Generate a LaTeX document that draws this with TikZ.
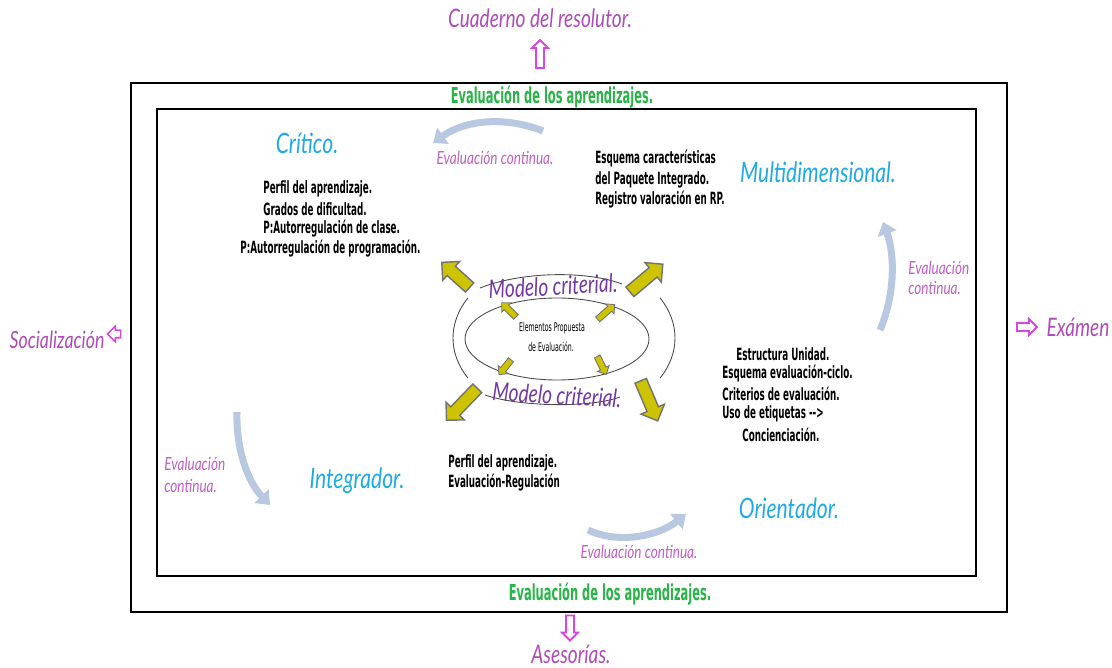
\documentclass[tikz,border=0pt]{standalone}
\usepackage{fontspec}
\setmainfont{DejaVu Sans}
\newfontfamily\handfont[FakeStretch=0.75]{Lato}
\newfontfamily\comicfont[FakeStretch=0.52]{DejaVu Sans}
\usetikzlibrary{calc,arrows.meta,shapes.arrows}
\def\centerellarc[#1](#2)(#3:#4:#5:#6){\draw[#1] ($(#2)+({#5*cos(#3)},{#6*sin(#3)})$) arc (#3:#4:#5 and #6);}

\definecolor{headblue}{RGB}{30,170,230}
\definecolor{notepurple}{RGB}{190,95,195}
\definecolor{labelpurple}{RGB}{175,75,185}
\definecolor{modelpurple}{RGB}{115,55,165}
\definecolor{evalgreen}{RGB}{40,180,70}
\definecolor{cyclegrey}{RGB}{185,200,225}
\definecolor{arrowyellow}{RGB}{205,195,0}
\definecolor{outpink}{RGB}{215,70,225}

\tikzset{
  heading/.style={text=headblue, font=\handfont\itshape\fontsize{16}{18}\selectfont, inner sep=0pt},
  notetext/.style={text=black, font=\comicfont\bfseries\fontsize{9.6}{11}\selectfont, anchor=west, inner sep=0pt},
  evalnote/.style={text=notepurple, font=\handfont\itshape\fontsize{10.3}{12}\selectfont, inner sep=0pt},
  outlabel/.style={text=labelpurple, font=\handfont\itshape\fontsize{14.5}{16}\selectfont, inner sep=0pt},
  greenhead/.style={text=evalgreen, font=\comicfont\bfseries\fontsize{12.5}{14}\selectfont, inner sep=0pt},
  modeltext/.style={text=modelpurple, font=\handfont\itshape\fontsize{14.5}{16}\selectfont, inner sep=0pt},
  centretext/.style={text=black, font=\comicfont\fontsize{6.8}{8}\selectfont, inner sep=0pt},
  cyclearrow/.style={draw=cyclegrey, line width=4pt, -{Triangle[length=7pt,width=11pt]}},
  bigarrow/.style={single arrow, fill=arrowyellow, draw=black!55, line width=0.8pt, inner sep=0pt, inner ysep=0.11cm, minimum width=0.48cm, single arrow head extend=0.13cm},
  smallarrow/.style={bigarrow, line width=0.5pt, inner ysep=0.055cm, minimum width=0.25cm, single arrow head extend=0.065cm},
  outarrow/.style={single arrow, draw=outpink, line width=1.1pt, inner sep=0pt, inner ysep=0.06cm, minimum width=0.28cm, single arrow head extend=0.08cm}
}

\begin{document}
\begin{tikzpicture}[x=0.02cm,y=-0.02cm]
		%%%%% START %%%%%
		\useasboundingbox (0,0) rectangle (1112,668);
		
		\draw[line width=1pt] (131,83) rectangle (1007,612);
		\draw[line width=1pt] (157,109) rectangle (976,576);
		
		\node[greenhead] (evaltop) at (552,97) {Evaluación de los aprendizajes.};
		\node[greenhead] (evalbot) at (610,594) {Evaluación de los aprendizajes.};
		
		% outside labels
		\node[outlabel] (cuaderno) at (540,18) {Cuaderno del resolutor.};
		\node[outarrow, rotate=90, minimum height=0.56cm] (upmark) at (540,56) {};
		\node[outlabel] (asesorias) at (571,654) {Asesorías.};
		\node[outarrow, rotate=-90, minimum height=0.5cm] (downmark) at (570,626) {};
		\node[outlabel, font=\handfont\itshape\fontsize{13.5}{16}\selectfont] (social) at (57,340) {Socialización};
		\node[outarrow, rotate=180, minimum height=0.26cm, minimum width=0.24cm, line width=0.9pt] (leftmark) at (116,334) {};
		\node[outlabel] (examen) at (1078,327) {Exámen};
		\node[outarrow, minimum height=0.4cm, minimum width=0.32cm] (rightmark) at (1025,327) {};
		
		% headings
		\node[heading] (critico) at (307,143) {Crítico.};
		\node[heading] (multi) at (818,172) {Multidimensional.};
		\node[heading] (integrador) at (357,481) {Integrador.};
		\node[heading] (orientador) at (789,508) {Orientador.};
		
		% critico
		\node[notetext] (crit1) at (263,189) {Perfil del aprendizaje.};
		\node[notetext] (crit2) at (263,209) {Grados de dificultad.};
		\node[notetext] (crit3) at (263,229) {P:Autorregulación de clase.};
		\node[notetext] (crit4) at (240,249) {P:Autorregulación de programación.};
		
		% multidimensional
		\node[notetext] (multi1) at (595,159) {Esquema características};
		\node[notetext] (multi2) at (595,180) {del Paquete Integrado.};
		\node[notetext] (multi3) at (595,200) {Registro valoración en RP.};
		
		% orientador
		\node[notetext] (orien1) at (736,354) {Estructura Unidad.};
		\node[notetext] (orien2) at (722,374) {Esquema evaluación-ciclo.};
		\node[notetext] (orien3) at (722,394) {Criterios de evaluación.};
		\node[notetext] (orien4) at (722,414) {Uso de etiquetas -{}-{}>};
		\node[notetext] (orien5) at (742,435) {Concienciación.};
		
		% integrador
		\node[notetext] (integ1) at (448,463) {Perfil del aprendizaje.};
		\node[notetext] (integ2) at (448,483) {Evaluación-Regulación};
		
		% evaluacion continua
		\node[evalnote] (contTop) at (495,158) {Evaluación continua.};
		\node[evalnote, anchor=west] (contRight1) at (908,268) {Evaluación};
		\node[evalnote, anchor=west] (contRight2) at (908,288) {continua.};
		\node[evalnote, anchor=west] (contLeft1) at (164,464) {Evaluación};
		\node[evalnote, anchor=west] (contLeft2) at (164,486) {continua.};
		\node[evalnote] (contBot) at (639,552) {Evaluación continua.};
		
		\coordinate (topA) at (543,131);
		\coordinate (topB) at (433,143);
		\coordinate (rightA) at (880,330);
		\coordinate (rightB) at (883,222);
		\coordinate (leftA) at (237,412);
		\coordinate (leftB) at (270,505);
		\coordinate (botA) at (588,530);
		\coordinate (botB) at (686,514);
		\draw[cyclearrow] (topA) .. controls (505,116) and (465,120) .. (topB);
		\draw[cyclearrow] (rightA) .. controls (895,295) and (895,255) .. (rightB);
		\draw[cyclearrow] (leftA) .. controls (236,450) and (248,482) .. (leftB);
		\draw[cyclearrow] (botA) .. controls (620,545) and (660,535) .. (botB);
		
		% centre
		\draw[line width=0.5pt, color=black!70] (557,339) ellipse [x radius=92, y radius=41];
		\centerellarc[line width=0.5pt, color=black!70](564,338)(150:210:111:80);
		\centerellarc[line width=0.5pt, color=black!70](564,338)(-30:30:111:80);
		\draw[line width=0.5pt, color=black!70] (480,288) .. controls (520,272) and (585,270) .. (622,284);
		\draw[line width=0.5pt, color=black!70] (485,395) .. controls (520,407) and (590,408) .. (620,397);
		
		\node[modeltext, rotate=3] (modelTop) at (553,286) {Modelo criterial.};
		\node[modeltext, rotate=-3] (modelBot) at (557,395) {Modelo criterial.};
		\node[centretext] (elem1) at (552,328) {Elementos Propuesta};
		\node[centretext] (elem2) at (551,347) {de Evaluación.};
		
		\node[bigarrow, rotate=138, minimum height=0.75cm] (yelUL) at (458,277) {};
		\node[bigarrow, rotate=40, minimum height=0.86cm] (yelUR) at (644,280) {};
		\node[bigarrow, rotate=226, minimum height=0.89cm] (yelLL) at (464,402) {};
		\node[bigarrow, rotate=293, minimum height=0.87cm] (yelLR) at (648,398) {};
		
		\node[smallarrow, rotate=135, minimum height=0.4cm] (smUL) at (510,311) {};
		\node[smallarrow, rotate=41, minimum height=0.45cm] (smUR) at (605,313) {};
		\node[smallarrow, rotate=231, minimum height=0.38cm] (smLL) at (506,366) {};
		\node[smallarrow, rotate=297, minimum height=0.4cm] (smLR) at (601,364) {};
		
		%%%%% END %%%%%
\end{tikzpicture}
\end{document}
